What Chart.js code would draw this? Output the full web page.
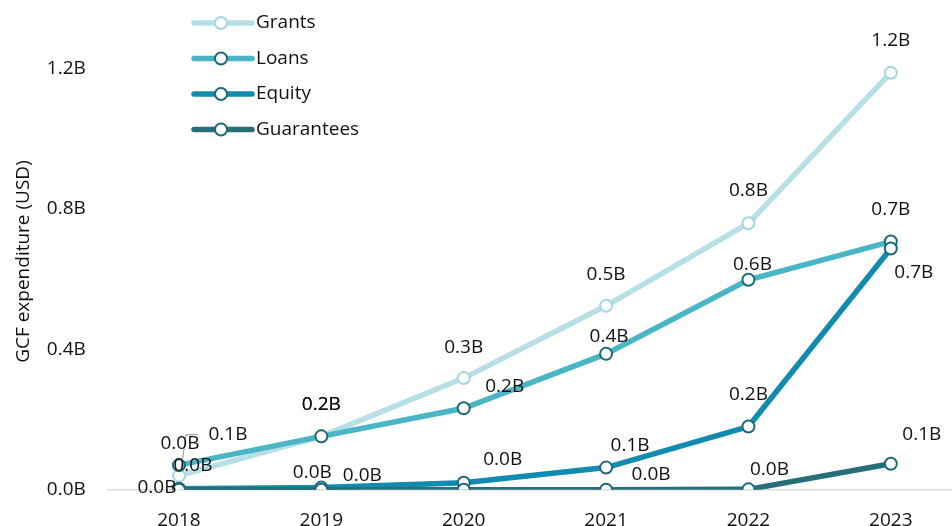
<!DOCTYPE html>
<html>
<head>
<meta charset="utf-8">
<script src="https://cdn.jsdelivr.net/npm/chart.js@4.4.1/dist/chart.umd.min.js"></script>
<style>
  html, body { margin: 0; padding: 0; background: #fff; overflow: hidden; }
  #wrap { width: 962px; height: 526px; }
</style>
</head>
<body>
<div id="wrap"><canvas id="chart"></canvas></div>
<script>
// GCF expenditure by instrument, billions USD
const years = ['2018', '2019', '2020', '2021', '2022', '2023'];
const grants = [0.04, 0.152, 0.318, 0.524, 0.759, 1.188];
const loans = [0.07, 0.152, 0.232, 0.387, 0.598, 0.707];
const equity = [0.003, 0.006, 0.02, 0.063, 0.18, 0.687];
const guarantees = [0, 0, 0, 0, 0.001, 0.074];
const yTicks = [0, 0.4, 0.8, 1.2];

const FONT = '"Open Sans", sans-serif';
const FS = 19;

// where each value label sits relative to its point (null = not shown)
const labelOffsets = {
  Grants: [[1, -32], [0, -32], [0, -30], [0, -31], [0, -33], [0, -32]],
  Loans: [[49, -31], [0, -32], [41, -22], [3, -17], [4, -15], [0, -32]],
  Equity: [[14, -23], [-9, -15], [39, -23], [24, -22], [0, -32], [23, 24]],
  Guarantees: [[-22, -2], [41, -14], null, [45, -15], [21, -20], [31, -29]]
};

function series(label, data, color, pointBorder, order) {
  return {
    label, data, order,
    borderColor: color,
    backgroundColor: color,
    borderWidth: 5.5,
    pointRadius: 6,
    pointBorderWidth: 2,
    pointBackgroundColor: '#fff',
    pointBorderColor: pointBorder,
    tension: 0
  };
}

const valueLabels = {
  id: 'valueLabels',
  afterDatasetsDraw(chart) {
    const ctx = chart.ctx;
    ctx.save();
    // leader line from the 2018 grants label down to its point
    const g0 = chart.getDatasetMeta(0).data[0];
    ctx.strokeStyle = '#a6a6a6';
    ctx.lineWidth = 1.2;
    ctx.beginPath();
    ctx.moveTo(g0.x + 19, g0.y - 41);
    ctx.lineTo(g0.x + 7, g0.y - 41);
    ctx.lineTo(g0.x + 2, g0.y - 6);
    ctx.stroke();

    ctx.font = FS + 'px ' + FONT;
    ctx.fillStyle = '#111';
    ctx.textAlign = 'center';
    ctx.textBaseline = 'middle';
    chart.data.datasets.forEach((ds, i) => {
      const meta = chart.getDatasetMeta(i);
      const offs = labelOffsets[ds.label];
      meta.data.forEach((pt, j) => {
        const o = offs[j];
        if (!o) return;
        ctx.fillText(ds.data[j].toFixed(1) + 'B', pt.x + o[0], pt.y + o[1]);
      });
    });
    ctx.restore();
  }
};

const sideLegend = {
  id: 'sideLegend',
  afterDraw(chart) {
    const ctx = chart.ctx;
    ctx.save();
    ctx.font = FS + 'px ' + FONT;
    ctx.textBaseline = 'middle';
    ctx.fillStyle = '#111';
    chart.data.datasets.forEach((ds, i) => {
      const y = 23 + i * 35.5;
      ctx.strokeStyle = ds.borderColor;
      ctx.lineWidth = 5.5;
      ctx.lineCap = 'round';
      ctx.beginPath();
      ctx.moveTo(194, y);
      ctx.lineTo(252, y);
      ctx.stroke();
      ctx.beginPath();
      ctx.arc(221, y, 6, 0, Math.PI * 2);
      ctx.fillStyle = '#fff';
      ctx.fill();
      ctx.lineWidth = 2;
      ctx.strokeStyle = ds.pointBorderColor;
      ctx.stroke();
      ctx.fillStyle = '#111';
      ctx.fillText(ds.label, 256, y);
    });
    ctx.restore();
  }
};

new Chart(document.getElementById('chart'), {
  type: 'line',
  data: {
    labels: years,
    datasets: [
      series('Grants', grants, '#b6e0e6', '#a3d6df', 4),
      series('Loans', loans, '#4ab5c5', '#1c6a78', 3),
      series('Equity', equity, '#128bb0', '#1c6a78', 2),
      series('Guarantees', guarantees, '#266e78', '#1c6a78', 1)
    ]
  },
  options: {
    responsive: true,
    maintainAspectRatio: false,
    animation: false,
    layout: { autoPadding: false, padding: { top: 0, right: 0, bottom: -24.5, left: 12 } },
    plugins: {
      legend: { display: false },
      tooltip: { enabled: false }
    },
    scales: {
      x: {
        offset: true,
        grid: { display: false, drawTicks: false },
        border: { color: '#d9d9d9', width: 1.5 },
        ticks: { color: '#111', font: { family: FONT, size: FS }, padding: 19 }
      },
      y: {
        min: 0,
        max: 1.3,
        afterBuildTicks: scale => { scale.ticks = yTicks.map(v => ({ value: v })); },
        grid: { display: false, drawTicks: false },
        border: { display: false },
        title: {
          display: true,
          text: 'GCF expenditure (USD)',
          color: '#111',
          font: { family: FONT, size: FS },
          padding: { top: 0, bottom: -10 }
        },
        ticks: {
          color: '#111',
          font: { family: FONT, size: FS },
          padding: 22,
          callback: v => v.toFixed(1) + 'B'
        }
      }
    }
  },
  plugins: [valueLabels, sideLegend]
});
</script>
</body>
</html>
